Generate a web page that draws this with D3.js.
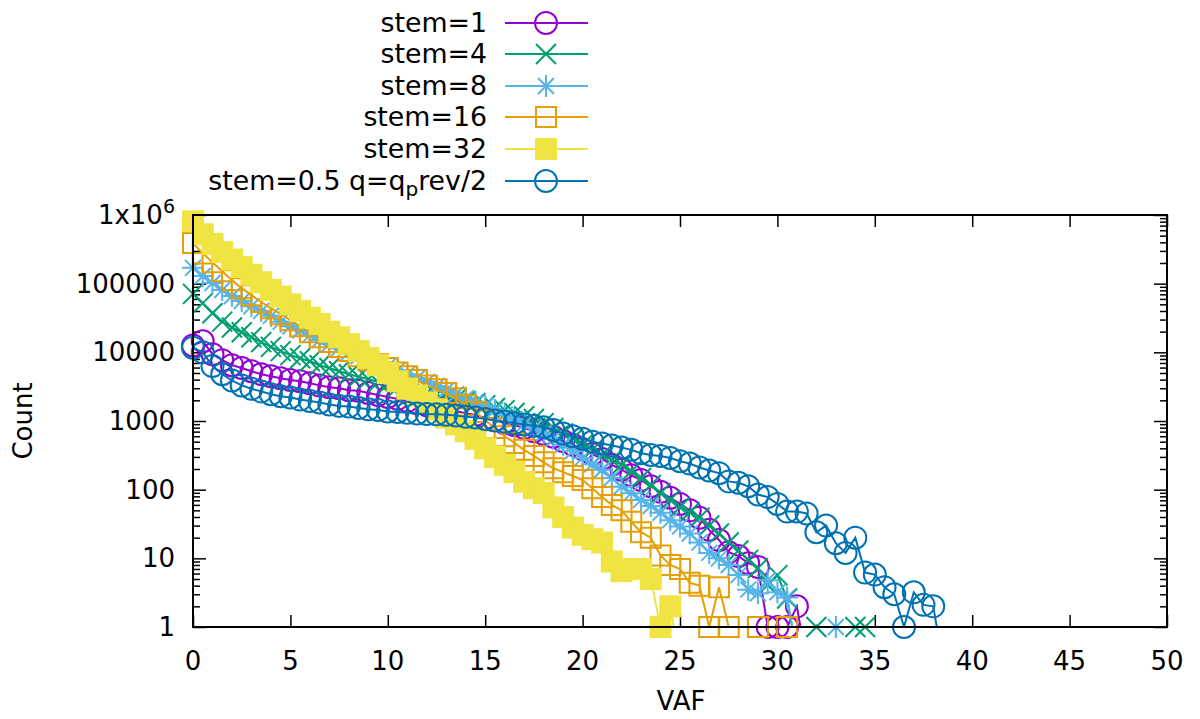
<!DOCTYPE html>
<html>
<head>
<meta charset="utf-8">
<title>VAF counts</title>
<style>
  body { margin: 0; background: #fff; }
  text { font-family: 'DejaVu Sans', sans-serif; fill: #000; }
</style>
<script src="https://d3js.org/d3.v7.min.js"></script>
</head>
<body>
<div id="chart"></div>
<script>
// ******* Data *******
const vafBins = [0, 0.5, 1, 1.5, 2, 2.5, 3, 3.5, 4, 4.5,
  5, 5.5, 6, 6.5, 7, 7.5, 8, 8.5, 9, 9.5,
  10, 10.5, 11, 11.5, 12, 12.5, 13, 13.5, 14, 14.5,
  15, 15.5, 16, 16.5, 17, 17.5, 18, 18.5, 19, 19.5,
  20, 20.5, 21, 21.5, 22, 22.5, 23, 23.5, 24, 24.5,
  25, 25.5, 26, 26.5, 27, 27.5, 28, 28.5, 29, 29.5,
  30, 30.5, 31, 31.5, 32, 32.5, 33, 33.5, 34, 34.5,
  35, 35.5, 36, 36.5, 37, 37.5, 38, 38.5];

const stem1 = [12600, 14500, 9400, 7700, 6500, 5900, 5300, 4800, 4500, 4200,
  3950, 3800, 3550, 3300, 3100, 3000, 2800, 2750, 2550, 2400,
  2240, 2100, 1950, 1820, 1700, 1590, 1480, 1390, 1300, 1220,
  1100, 1030, 930, 870, 790, 710, 650, 590, 510, 450,
  390, 330, 280, 230, 195, 162, 138, 112, 93, 76,
  62, 50, 39, 26, 18.5, 12.3, 10.8, 8.5, 7.5, 1,
  1, 1, 2, 0.3];

const stem4 = [71000, 52000, 37000, 28000, 23000, 19600, 16600, 14100, 12000, 10400,
  9100, 8200, 7400, 6500, 5900, 5300, 4800, 4400, 4100, 3700,
  3450, 3100, 2900, 2750, 2550, 2400, 2240, 2100, 1950, 1820,
  1700, 1550, 1440, 1310, 1170, 1070, 930, 790, 660, 550,
  450, 380, 320, 270, 230, 185, 148, 117, 89, 71,
  56, 47, 39, 30, 23, 17, 13, 9.5, 7.2, 4.1,
  5.7, 2.6, 0.4, 0.3, 1, 0.3, 0.3, 0.3, 1, 1,
  0.3];

const stem8 = [170000, 129000, 102000, 81000, 66000, 56000, 47000, 40000, 34000, 28000,
  24000, 21000, 17800, 15100, 13200, 11500, 10000, 8800, 7900, 6900,
  6300, 5500, 4800, 4200, 3700, 3200, 2800, 2450, 2150, 1900,
  1650, 1450, 1230, 1070, 900, 790, 660, 550, 450, 365,
  290, 235, 195, 148, 110, 89, 71, 58, 46, 36,
  29, 23, 17, 12, 10, 8, 5.7, 3.5, 3.1, 4.8,
  3.2, 2.7, 0.4, 0.3, 0.3, 0.3, 1, 0.3];

const stem16 = [390000, 276000, 205000, 152000, 112000, 86000, 68000, 54000, 44000, 36000,
  29500, 24000, 19600, 16600, 14100, 12000, 10500, 8800, 7700, 6700,
  5900, 5100, 4500, 3950, 3300, 2900, 2550, 2150, 1700, 1350,
  1020, 790, 600, 480, 380, 310, 250, 205, 180, 158,
  138, 105, 78, 60, 50, 34, 24, 20, 11, 8,
  7, 4.4, 4, 1, 3.8, 1, 0.3, 0.3, 1, 0.3,
  0.3, 1, 0.3];

const stem32 = [810000, 525000, 380000, 288000, 224000, 174000, 135000, 105000, 81000, 65000,
  50000, 40000, 32000, 26000, 20000, 16600, 13200, 10500, 8300, 6500,
  5000, 3800, 2950, 2350, 1860, 1480, 1120, 890, 710, 550,
  400, 300, 230, 180, 130, 105, 89, 55, 40, 28,
  22, 19, 17, 9, 6.5, 7, 7, 5, 1, 2,
  0.3];

const stemHalf = [11700, 10000, 6300, 4800, 3900, 3300, 2950, 2700, 2450, 2300,
  2200, 2050, 1950, 1860, 1740, 1660, 1620, 1550, 1480, 1450,
  1380, 1350, 1320, 1290, 1260, 1250, 1230, 1200, 1150, 1120,
  1070, 1020, 980, 930, 890, 850, 810, 740, 660, 600,
  550, 500, 470, 440, 410, 380, 340, 320, 310, 290,
  260, 240, 210, 190, 174, 132, 126, 112, 85, 78,
  62, 48, 48, 45, 24, 30, 16.6, 12, 20, 6.2,
  5.8, 3.8, 3, 1, 3.2, 2.1, 2, 0.3];

const xTicks = [0, 5, 10, 15, 20, 25, 30, 35, 40, 45, 50];
const yTicks = [1, 10, 100, 1000, 10000, 100000, 1000000];
const yTickLabels = ["1", "10", "100", "1000", "10000", "100000", "1x10^6"];

// ******* Constants *******
const width = 1200,
      height = 719,
      margin = { top: 215, right: 33, bottom: 92, left: 193 };

const series = [
  { label: "stem=1", values: stem1, color: "#9400d3", mark: "circle" },
  { label: "stem=4", values: stem4, color: "#009e73", mark: "cross" },
  { label: "stem=8", values: stem8, color: "#56b4e9", mark: "star" },
  { label: "stem=16", values: stem16, color: "#e69f00", mark: "square" },
  { label: "stem=32", values: stem32, color: "#f0e442", mark: "filled" },
  { label: "stem=0.5 q=q_prev/2", values: stemHalf, color: "#0072b2", mark: "circle" }
];

const markPaths = {
  circle: "M-11,0A11,11 0 1,0 11,0A11,11 0 1,0 -11,0Z",
  cross: "M-10,-10L10,10M-10,10L10,-10",
  star: "M-8,-8L8,8M-8,8L8,-8M0,-11L0,11M-11,0L11,0",
  square: "M-10,-10H10V10H-10Z",
  filled: "M-11,-11H11V11H-11Z"
};

// ******* Scales *******
const x = d3.scaleLinear()
    .domain([0, 50])
    .range([margin.left, width - margin.right]);
const y = d3.scaleLog()
    .domain([1, 1e6])
    .range([height - margin.bottom, margin.top]);

// ******* Create SVG *******
const svg = d3.select("#chart").append("svg")
    .attr("width", width)
    .attr("height", height);

svg.append("defs").append("clipPath")
    .attr("id", "plot-clip")
  .append("rect")
    .attr("x", margin.left)
    .attr("y", margin.top)
    .attr("width", width - margin.left - margin.right)
    .attr("height", height - margin.top - margin.bottom);

// ******* Axes (ticks point inward, mirrored) *******
const tickFont = "26px";
const yMinor = y.ticks().filter(v => !yTicks.includes(v));

svg.append("g")
    .attr("transform", `translate(0,${height - margin.bottom})`)
    .call(d3.axisBottom(x).tickValues(xTicks).tickSize(-12).tickFormat(""))
    .call(g => g.select(".domain").remove());
svg.append("g")
    .attr("transform", `translate(0,${margin.top})`)
    .call(d3.axisTop(x).tickValues(xTicks).tickSize(-12).tickFormat(""))
    .call(g => g.select(".domain").remove());
svg.append("g")
    .attr("transform", `translate(${margin.left},0)`)
    .call(d3.axisLeft(y).tickValues(yTicks).tickSize(-13).tickFormat(""))
    .call(g => g.select(".domain").remove());
svg.append("g")
    .attr("transform", `translate(${margin.left},0)`)
    .call(d3.axisLeft(y).tickValues(yMinor).tickSize(-7).tickFormat(""))
    .call(g => g.select(".domain").remove());
svg.append("g")
    .attr("transform", `translate(${width - margin.right},0)`)
    .call(d3.axisRight(y).tickValues(yTicks).tickSize(-13).tickFormat(""))
    .call(g => g.select(".domain").remove());
svg.append("g")
    .attr("transform", `translate(${width - margin.right},0)`)
    .call(d3.axisRight(y).tickValues(yMinor).tickSize(-7).tickFormat(""))
    .call(g => g.select(".domain").remove());
svg.selectAll(".tick line").attr("stroke", "#000").attr("stroke-width", 1.5);

svg.append("g").selectAll("text")
    .data(xTicks)
    .join("text")
    .attr("x", d => x(d))
    .attr("y", 670)
    .attr("text-anchor", "middle")
    .style("font-size", tickFont)
    .text(d => d);

const yLabels = svg.append("g").selectAll("text")
    .data(yTicks)
    .join("text")
    .attr("x", 175)
    .attr("y", d => y(d) + 9)
    .attr("text-anchor", "end")
    .style("font-size", tickFont);
yLabels.each(function(d, i) {
  const t = d3.select(this);
  const lab = yTickLabels[i];
  if (lab.includes("^")) {
    const parts = lab.split("^");
    t.append("tspan").text(parts[0]);
    t.append("tspan").attr("dy", -11).style("font-size", "19px").text(parts[1]);
  } else {
    t.text(lab);
  }
});

svg.append("text")
    .attr("transform", `translate(32,421) rotate(-90)`)
    .attr("text-anchor", "middle")
    .style("font-size", tickFont)
    .text("Count");
svg.append("text")
    .attr("x", 681)
    .attr("y", 710)
    .attr("text-anchor", "middle")
    .style("font-size", tickFont)
    .text("VAF");

// ******* Series *******
const line = d3.line()
    .x(d => x(d.vaf))
    .y(d => y(d.count));

series.forEach(s => {
  const pts = s.values.map((v, i) => ({ vaf: vafBins[i], count: v }));
  const g = svg.append("g");
  g.append("path")
      .datum(pts)
      .attr("clip-path", "url(#plot-clip)")
      .attr("fill", "none")
      .attr("stroke", s.color)
      .attr("stroke-width", 2)
      .attr("d", line);
  g.selectAll("path.pt")
      .data(pts.filter(d => d.count >= 1))
      .join("path")
      .attr("class", "pt")
      .attr("d", markPaths[s.mark])
      .attr("fill", s.mark === "filled" ? s.color : "none")
      .attr("stroke", s.mark === "filled" ? "none" : s.color)
      .attr("stroke-width", 2)
      .attr("transform", d => `translate(${x(d.vaf)},${y(d.count)})`);
});

// ******* Border *******
svg.append("rect")
    .attr("x", margin.left)
    .attr("y", margin.top)
    .attr("width", width - margin.left - margin.right)
    .attr("height", height - margin.top - margin.bottom)
    .attr("fill", "none")
    .attr("stroke", "#000")
    .attr("stroke-width", 2);

// ******* Legend *******
const legendRows = [23, 54, 86, 117, 149, 181];
const legend = svg.append("g");
series.forEach((s, i) => {
  const ly = legendRows[i];
  const t = legend.append("text")
      .attr("x", 487)
      .attr("y", ly + 9)
      .attr("text-anchor", "end")
      .style("font-size", "26.8px");
  if (s.label.includes("_")) {
    const parts = s.label.split("_");
    t.append("tspan").text(parts[0]);
    t.append("tspan").attr("dy", 6).style("font-size", "20px").text(parts[1].charAt(0));
    t.append("tspan").attr("dy", -6).text(parts[1].slice(1));
  } else {
    t.text(s.label);
  }
  legend.append("line")
      .attr("x1", 505).attr("x2", 588)
      .attr("y1", ly).attr("y2", ly)
      .attr("stroke", s.color)
      .attr("stroke-width", 2);
  legend.append("path")
      .attr("d", markPaths[s.mark])
      .attr("transform", `translate(546,${ly})`)
      .attr("fill", s.mark === "filled" ? s.color : "none")
      .attr("stroke", s.mark === "filled" ? "none" : s.color)
      .attr("stroke-width", 2);
});
</script>
</body>
</html>
